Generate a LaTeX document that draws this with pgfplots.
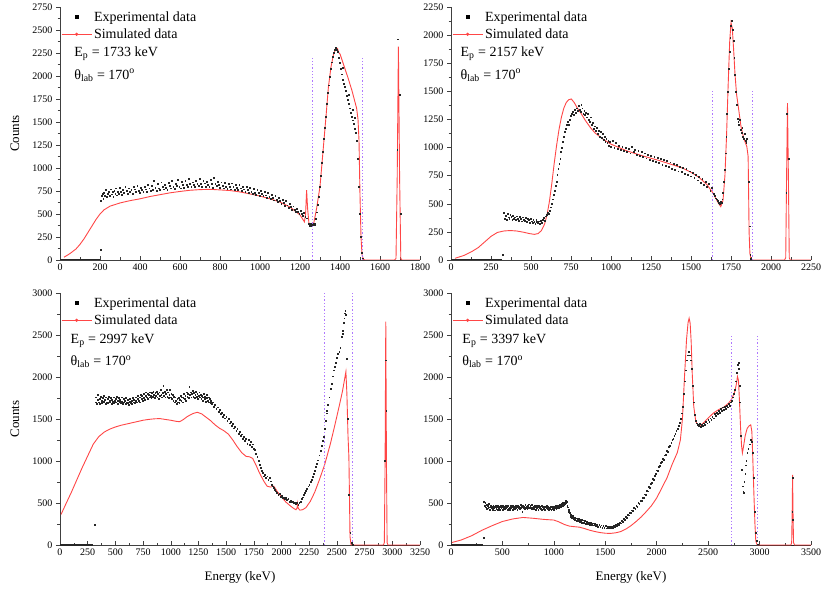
\documentclass[border=0pt]{standalone}
\usepackage{fontspec}
\setmainfont{Liberation Serif}
\usepackage{pgfplots}
\pgfplotsset{compat=1.18}
\definecolor{simred}{RGB}{255,70,70}
\definecolor{cutline}{RGB}{175,120,255}

\tikzset{panelnote/.style={anchor=west, font=\fontsize{14}{15}\selectfont}}
\pgfplotsset{
  panel/.style={
    scale only axis, width=360pt, height=253pt,
    axis x line*=bottom, axis y line*=left,
    axis line style={black!75, line width=0.6pt},
    xtick align=inside, ytick align=outside,
    major tick length=4pt, minor tick length=2.5pt,
    every tick/.style={black!75, line width=0.5pt},
    minor x tick num=1, minor y tick num=1,
    tick label style={font=\fontsize{10}{11}\selectfont},
    /pgf/number format/assume math mode=true,
    /pgf/number format/1000 sep={},
    scaled ticks=false, xmin=0, ymin=0,
    label style={font=\fontsize{13}{14}\selectfont},
    ylabel style={at={(axis description cs:-0.125,0.5)}, anchor=center},
    xlabel style={at={(axis description cs:0.5,-0.13)}, anchor=center},
    legend style={at={(rel axis cs:0.0,0.995)}, anchor=north west, draw=none, fill=none,
      font=\fontsize{14}{15}\selectfont, row sep=2pt, inner sep=1pt},
    legend cell align=left,
  },
  exp/.style={only marks, mark=square*, mark size=0.42pt, black!85,
    legend image code/.code={\fill[black] (15pt,0pt) +(-1.6pt,-1.6pt) rectangle +(1.6pt,1.6pt);}},
  sim/.style={simred, line width=0.9pt, no marks,
    legend image code/.code={\draw[simred, line width=0.8pt] (0pt,0pt) -- (30pt,0pt); \fill[simred] (15pt,0pt) circle (1.1pt);}},
  cut/.style={cutline, line width=1.5pt, dash pattern=on 1.3pt off 2pt, forget plot},
  base/.style={black!85, line width=1.1pt, forget plot},
}

\begin{document}
\begin{tikzpicture}
\useasboundingbox (0pt,0pt) rectangle (821pt,589pt);

% ---------- panel 1: Ep = 1733 keV
\begin{axis}[panel, at={(60pt,329pt)}, anchor=south west,
  xmax=1800, ymax=2750, xtick={0,200,...,1800}, ytick={0,250,...,2750},
  ylabel={Counts}]
\addplot[base] table[row sep=\\] {0 0\\ 200 0\\};
\addplot[base, line width=0.8pt] table[row sep=\\] {1520 0\\ 1800 0\\};
\addplot[exp] table[row sep=\\] {
205 640\\ 208 700\\ 212 720\\ 216 670\\ 220 735\\ 225 700\\ 230 760\\ 234 690\\ 238 725\\ 243 745\\ 248 700\\ 252 770\\ 257 715\\ 262 740\\ 266 690\\ 271 755\\ 276 725\\ 280 780\\ 285 705\\ 290 745\\ 295 720\\ 300 790\\ 305 740\\ 310 710\\ 315 765\\ 320 735\\ 326 800\\ 332 750\\ 338 725\\ 344 780\\ 350 745\\ 356 760\\ 362 720\\ 368 795\\ 374 770\\ 380 740\\ 386 810\\ 392 755\\ 398 730\\ 404 785\\ 410 760\\ 416 745\\ 422 800\\ 428 770\\ 434 740\\ 440 820\\ 446 780\\ 452 750\\ 458 805\\ 464 765\\ 470 860\\ 476 790\\ 482 755\\ 488 830\\ 494 780\\ 500 765\\ 506 845\\ 512 800\\ 518 770\\ 524 820\\ 530 790\\ 536 760\\ 542 840\\ 548 805\\ 554 780\\ 560 860\\ 566 800\\ 572 775\\ 578 830\\ 584 810\\ 590 870\\ 596 795\\ 602 780\\ 608 850\\ 614 815\\ 620 790\\ 626 860\\ 632 820\\ 638 800\\ 644 880\\ 650 830\\ 656 795\\ 662 845\\ 668 820\\ 674 800\\ 680 865\\ 686 830\\ 692 810\\ 698 880\\ 704 825\\ 710 795\\ 716 860\\ 722 835\\ 728 800\\ 734 850\\ 740 820\\ 746 795\\ 752 870\\ 758 825\\ 764 790\\ 770 890\\ 776 830\\ 782 805\\ 788 850\\ 794 815\\ 800 785\\ 806 845\\ 812 810\\ 818 780\\ 824 840\\ 830 800\\ 836 775\\ 842 830\\ 848 795\\ 854 770\\ 860 835\\ 866 795\\ 872 765\\ 878 820\\ 884 790\\ 890 760\\ 896 815\\ 902 780\\ 908 755\\ 914 800\\ 920 770\\ 926 745\\ 932 800\\ 938 760\\ 944 735\\ 950 790\\ 956 745\\ 962 720\\ 968 775\\ 974 735\\ 980 710\\ 986 760\\ 992 730\\ 998 700\\ 1004 750\\ 1010 720\\ 1016 695\\ 1022 740\\ 1028 705\\ 1034 680\\ 1040 730\\ 1046 690\\ 1052 665\\ 1058 710\\ 1064 675\\ 1070 650\\ 1076 700\\ 1082 655\\ 1088 630\\ 1094 680\\ 1100 640\\ 1106 615\\ 1112 655\\ 1118 620\\ 1124 590\\ 1130 640\\ 1136 595\\ 1142 570\\ 1148 610\\ 1154 575\\ 1160 550\\ 1166 585\\ 1172 550\\ 1178 525\\ 1184 560\\ 1190 525\\ 1196 505\\ 1202 540\\ 1208 500\\ 1214 485\\ 1220 510\\ 1226 470\\ 1232 455\\
1245 395\\ 1248 375\\ 1252 390\\ 1256 370\\ 1260 385\\ 1264 378\\ 1268 392\\ 1272 380\\
1276 400\\ 1280 450\\ 1285 520\\ 1290 600\\ 1295 690\\ 1300 800\\ 1305 920\\ 1310 1060\\ 1315 1180\\ 1320 1320\\ 1325 1440\\ 1330 1560\\ 1335 1700\\ 1340 1820\\ 1345 1900\\ 1350 1990\\ 1355 2080\\ 1360 2150\\ 1365 2210\\ 1370 2250\\ 1375 2290\\ 1380 2310\\ 1385 2290\\
1390 2260\\ 1395 2200\\ 1400 2140\\ 1405 2080\\ 1410 2020\\ 1412 2090\\ 1415 1960\\ 1420 1920\\ 1425 1880\\ 1430 1840\\ 1435 1790\\ 1440 1740\\ 1442 1800\\ 1445 1700\\ 1450 1650\\ 1455 1600\\ 1460 1560\\ 1462 1630\\ 1465 1520\\ 1470 1480\\ 1472 1550\\ 1475 1430\\ 1480 1380\\ 1485 1300\\ 1490 1100\\ 1495 800\\ 1500 500\\ 1505 250\\ 1510 80\\ 1515 20\\
205 110\\ 1686 1200\\ 1690 2400\\ 1700 1800\\ 1705 500\\
};
\addplot[sim] table[row sep=\\] {
20 30\\ 50 70\\ 80 120\\ 100 170\\ 120 230\\ 140 300\\ 160 370\\ 180 440\\ 200 500\\ 220 545\\ 250 585\\ 300 620\\ 350 645\\ 400 665\\ 450 690\\ 500 710\\ 550 730\\ 600 745\\ 650 758\\ 700 765\\ 750 768\\ 800 762\\ 850 755\\ 900 740\\ 950 718\\ 1000 695\\ 1050 665\\ 1100 630\\ 1150 575\\ 1200 490\\ 1222 415\\ 1228 500\\ 1233 760\\ 1238 560\\ 1245 390\\ 1255 378\\ 1267 380\\ 1283 560\\ 1300 800\\ 1317 1230\\ 1330 1560\\ 1342 1880\\ 1355 2100\\ 1367 2230\\ 1380 2305\\ 1387 2300\\ 1395 2250\\ 1400 2240\\ 1420 2110\\ 1440 1980\\ 1460 1840\\ 1483 1650\\ 1490 1530\\ 1495 1300\\ 1500 700\\ 1505 250\\ 1510 60\\ 1517 5\\ 1525 0\\ 1672 0\\ 1680 15\\ 1686 900\\ 1692 2320\\ 1698 900\\ 1704 15\\ 1710 0\\ 1800 0\\
};
\addplot[cut] table[row sep=\\] {1262 0\\ 1262 2200\\};
\addplot[cut] table[row sep=\\] {1513 0\\ 1513 2200\\};
\legend{Experimental data, Simulated data}
\node[panelnote] at (rel axis cs:0.03,0.815) {E\textsubscript{p} = 1733 keV};
\node[panelnote] at (rel axis cs:0.03,0.73) {θ\textsubscript{lab} = 170\textsuperscript{o}};
\end{axis}

% ---------- panel 2: Ep = 2157 keV
\begin{axis}[panel, at={(451pt,329pt)}, anchor=south west,
  xmax=2250, ymax=2250, xtick={0,250,...,2250}, ytick={0,250,...,2250}]
\addplot[base] table[row sep=\\] {0 0\\ 320 0\\};
\addplot[base, line width=0.8pt] table[row sep=\\] {1880 0\\ 2250 0\\};
\addplot[exp] table[row sep=\\] {
323 45\\
330 420\\ 335 370\\ 340 395\\ 346 360\\ 352 410\\ 358 380\\ 364 370\\ 370 400\\ 376 385\\ 382 355\\ 388 395\\ 394 370\\ 400 380\\ 406 360\\ 412 390\\ 418 365\\ 424 350\\ 430 385\\ 436 370\\ 442 345\\ 448 380\\ 454 360\\ 460 350\\ 466 375\\ 472 340\\ 478 365\\ 484 355\\ 490 335\\ 496 370\\ 502 345\\ 508 330\\ 514 360\\ 520 340\\ 526 325\\ 532 355\\ 538 340\\ 544 330\\ 550 345\\ 556 320\\ 562 350\\ 568 335\\ 574 360\\ 580 375\\ 586 350\\ 592 390\\ 598 400\\ 604 420\\ 610 410\\ 616 440\\ 622 470\\ 628 500\\ 634 540\\ 640 580\\ 646 620\\ 652 660\\ 658 700\\ 664 760\\ 670 810\\ 676 860\\ 682 900\\ 688 960\\ 694 1000\\ 700 1050\\ 706 1100\\ 712 1140\\ 718 1170\\ 724 1200\\ 730 1230\\ 736 1200\\ 742 1250\\ 748 1280\\ 754 1300\\ 760 1320\\ 766 1290\\ 772 1340\\ 778 1310\\ 784 1350\\ 790 1330\\ 796 1370\\ 802 1340\\ 808 1320\\ 814 1380\\ 820 1350\\ 826 1300\\ 832 1330\\ 838 1290\\ 844 1310\\ 850 1270\\ 856 1300\\ 862 1250\\ 868 1230\\ 874 1270\\ 880 1200\\ 886 1220\\ 892 1170\\ 898 1190\\ 904 1150\\ 910 1180\\ 916 1120\\ 922 1150\\ 928 1100\\ 934 1140\\ 940 1090\\ 946 1120\\ 952 1070\\ 958 1100\\ 964 1050\\ 970 1080\\ 976 1040\\ 982 1060\\ 988 1020\\ 994 1050\\ 1000 1010\\ 1010 1060\\ 1020 1000\\ 1030 1040\\ 1040 990\\ 1050 1020\\ 1060 980\\ 1070 1010\\ 1080 970\\ 1090 1000\\ 1100 960\\ 1110 990\\ 1120 950\\ 1130 1010\\ 1140 960\\ 1150 980\\ 1160 935\\ 1170 970\\ 1180 925\\ 1190 960\\ 1200 915\\ 1210 950\\ 1220 905\\ 1230 940\\ 1240 895\\ 1250 930\\ 1260 885\\ 1270 920\\ 1280 875\\ 1290 910\\ 1300 865\\ 1310 900\\ 1320 850\\ 1330 890\\ 1340 840\\ 1350 880\\ 1360 830\\ 1370 870\\ 1380 815\\ 1390 855\\ 1400 805\\ 1410 845\\ 1420 790\\ 1430 830\\ 1440 785\\ 1450 820\\ 1460 770\\ 1470 810\\ 1480 760\\ 1490 790\\ 1500 745\\ 1510 775\\ 1520 730\\ 1530 760\\ 1540 710\\ 1550 740\\ 1560 690\\ 1570 720\\ 1580 670\\ 1590 700\\ 1600 650\\ 1610 680\\ 1620 620\\ 1630 640\\ 1640 590\\ 1650 570\\ 1655 550\\ 1660 540\\ 1665 530\\ 1670 520\\ 1675 510\\ 1680 500\\ 1685 520\\ 1690 510\\ 1695 540\\
1700 600\\ 1705 700\\ 1710 800\\ 1715 950\\ 1720 1100\\ 1725 1300\\ 1730 1500\\ 1735 1700\\ 1740 1850\\ 1745 1980\\ 1750 2080\\ 1755 2130\\ 1760 2050\\ 1765 1950\\ 1770 1800\\ 1775 1650\\ 1780 1500\\ 1785 1380\\ 1790 1260\\ 1795 1230\\ 1800 1200\\ 1805 1250\\ 1810 1160\\ 1815 1130\\ 1820 1180\\ 1825 1100\\ 1830 1080\\ 1835 1120\\ 1840 1060\\ 1845 1040\\ 1850 1080\\ 1860 700\\ 1865 300\\ 1870 50\\ 1875 10\\
2095 600\\ 2100 1300\\ 2110 900\\
};
\addplot[sim] table[row sep=\\] {
25 15\\ 80 40\\ 130 75\\ 170 110\\ 210 160\\ 250 210\\ 290 245\\ 330 258\\ 370 262\\ 410 258\\ 450 248\\ 490 235\\ 520 228\\ 545 235\\ 565 262\\ 585 320\\ 600 400\\ 615 520\\ 630 680\\ 645 860\\ 660 1020\\ 675 1160\\ 690 1270\\ 705 1350\\ 720 1400\\ 735 1425\\ 752 1432\\ 770 1400\\ 790 1350\\ 810 1310\\ 840 1240\\ 870 1180\\ 900 1130\\ 950 1075\\ 1000 1030\\ 1100 970\\ 1200 925\\ 1300 885\\ 1400 840\\ 1450 815\\ 1500 780\\ 1550 735\\ 1600 670\\ 1640 590\\ 1665 520\\ 1686 474\\ 1700 530\\ 1712 750\\ 1722 1100\\ 1732 1550\\ 1742 1950\\ 1750 2110\\ 1758 2060\\ 1766 1880\\ 1775 1650\\ 1785 1470\\ 1795 1370\\ 1812 1190\\ 1830 1080\\ 1849 1008\\ 1857 920\\ 1860 600\\ 1863 250\\ 1868 60\\ 1875 5\\ 1885 0\\ 2085 0\\ 2092 20\\ 2097 700\\ 2103 1395\\ 2109 700\\ 2114 20\\ 2120 0\\ 2250 0\\
};
\addplot[cut] table[row sep=\\] {1634 0\\ 1634 1500\\};
\addplot[cut] table[row sep=\\] {1885 0\\ 1885 1500\\};
\legend{Experimental data, Simulated data}
\node[panelnote] at (rel axis cs:0.017,0.815) {E\textsubscript{p} = 2157 keV};
\node[panelnote] at (rel axis cs:0.017,0.73) {θ\textsubscript{lab} = 170\textsuperscript{o}};
\end{axis}

% ---------- panel 3: Ep = 2997 keV
\begin{axis}[panel, at={(60pt,44pt)}, anchor=south west, height=252pt,
  xmax=3250, ymax=3000, xtick={0,250,...,3250}, ytick={0,500,...,3000},
  ylabel={Counts}, xlabel={Energy (keV)}]
\addplot[base] table[row sep=\\] {0 0\\ 300 0\\};
\addplot[base, line width=0.8pt] table[row sep=\\] {2640 0\\ 3250 0\\};
\addplot[exp] table[row sep=\\] {
317 238\\
320 1700\\ 326 1760\\ 332 1680\\ 338 1730\\ 344 1790\\ 350 1700\\ 356 1740\\ 362 1680\\ 368 1770\\ 374 1720\\ 380 1690\\ 386 1750\\ 392 1710\\ 398 1780\\ 404 1730\\ 410 1680\\ 416 1760\\ 422 1700\\ 428 1740\\ 434 1690\\ 440 1770\\ 446 1720\\ 452 1700\\ 458 1750\\ 464 1680\\ 470 1730\\ 476 1710\\ 482 1760\\ 488 1690\\ 494 1720\\ 500 1740\\ 506 1700\\ 512 1770\\ 518 1720\\ 524 1680\\ 530 1750\\ 536 1710\\ 542 1730\\ 548 1690\\ 554 1760\\ 560 1710\\ 566 1680\\ 572 1740\\ 578 1700\\ 584 1720\\ 590 1680\\ 596 1750\\ 602 1700\\ 608 1690\\ 614 1730\\ 620 1670\\ 626 1710\\ 632 1740\\ 638 1690\\ 644 1720\\ 650 1680\\ 656 1750\\ 662 1700\\ 668 1730\\ 674 1690\\ 680 1720\\ 686 1760\\ 692 1700\\ 698 1740\\ 704 1780\\ 710 1720\\ 716 1760\\ 722 1700\\ 728 1790\\ 734 1740\\ 740 1780\\ 746 1720\\ 752 1800\\ 758 1750\\ 764 1730\\ 770 1780\\ 776 1820\\ 782 1760\\ 788 1800\\ 794 1740\\ 800 1790\\ 806 1760\\ 812 1820\\ 818 1780\\ 824 1750\\ 830 1810\\ 836 1770\\ 842 1830\\ 848 1790\\ 854 1750\\ 860 1810\\ 866 1780\\ 872 1830\\ 878 1760\\ 884 1800\\ 890 1740\\ 896 1820\\ 902 1780\\ 908 1850\\ 914 1790\\ 920 1760\\ 926 1810\\ 932 1900\\ 938 1780\\ 944 1830\\ 950 1760\\ 956 1800\\ 962 1850\\ 968 1770\\ 974 1820\\ 980 1750\\ 986 1790\\ 992 1850\\ 998 1760\\ 1004 1800\\ 1010 1740\\ 1016 1790\\ 1022 1720\\ 1028 1770\\ 1034 1700\\ 1040 1760\\ 1046 1720\\ 1052 1680\\ 1058 1740\\ 1064 1700\\ 1070 1750\\ 1076 1690\\ 1082 1730\\ 1088 1780\\ 1094 1720\\ 1100 1760\\ 1106 1700\\ 1112 1750\\ 1118 1800\\ 1124 1740\\ 1130 1780\\ 1136 1720\\ 1142 1820\\ 1148 1770\\ 1154 1800\\ 1160 1750\\ 1166 1880\\ 1172 1790\\ 1178 1820\\ 1184 1760\\ 1190 1800\\ 1196 1840\\ 1202 1770\\ 1208 1810\\ 1214 1750\\ 1220 1790\\ 1226 1830\\ 1232 1770\\ 1238 1800\\ 1244 1740\\ 1250 1780\\ 1256 1820\\ 1262 1760\\ 1268 1790\\ 1274 1740\\ 1280 1780\\ 1286 1720\\ 1292 1760\\ 1298 1800\\ 1304 1740\\ 1310 1770\\ 1316 1710\\ 1322 1750\\ 1328 1790\\ 1334 1720\\ 1340 1760\\ 1346 1700\\ 1352 1740\\ 1358 1690\\ 1364 1720\\ 1370 1680\\
1380 1700\\ 1390 1650\\ 1400 1670\\ 1410 1620\\ 1420 1640\\ 1430 1590\\ 1440 1610\\ 1450 1560\\ 1460 1580\\ 1470 1530\\ 1480 1550\\ 1490 1510\\ 1500 1530\\ 1510 1480\\ 1520 1500\\ 1530 1450\\ 1540 1470\\ 1550 1420\\ 1560 1440\\ 1570 1390\\ 1580 1410\\ 1590 1360\\ 1600 1380\\ 1610 1330\\ 1620 1350\\ 1630 1300\\ 1640 1320\\ 1650 1270\\ 1660 1290\\ 1670 1240\\ 1680 1270\\ 1690 1210\\ 1700 1250\\ 1710 1190\\ 1720 1230\\ 1730 1170\\ 1740 1200\\ 1750 1150\\ 1760 1130\\ 1770 1090\\ 1780 1050\\ 1790 1000\\ 1800 960\\ 1810 920\\ 1820 880\\ 1830 860\\ 1840 820\\ 1850 840\\ 1860 800\\ 1870 820\\ 1880 780\\ 1890 800\\ 1900 760\\ 1910 720\\ 1920 700\\ 1930 680\\ 1940 660\\ 1950 640\\ 1960 620\\ 1970 600\\ 1980 610\\ 1990 580\\ 2000 590\\ 2010 560\\ 2020 570\\ 2030 550\\ 2040 560\\ 2050 540\\ 2060 550\\ 2070 520\\ 2080 530\\ 2090 510\\ 2100 520\\ 2110 500\\ 2120 510\\ 2130 490\\ 2140 500\\ 2150 480\\
2160 500\\ 2170 520\\ 2180 550\\ 2190 570\\ 2200 600\\ 2210 620\\ 2220 650\\ 2230 670\\ 2240 700\\ 2250 720\\ 2260 750\\ 2270 780\\ 2280 810\\ 2290 850\\ 2300 880\\ 2310 930\\ 2320 970\\ 2330 1010\\ 2340 1070\\ 2350 1120\\ 2360 1180\\ 2370 1240\\ 2380 1290\\ 2390 1380\\ 2400 1480\\ 2405 1600\\ 2410 1570\\ 2420 1670\\ 2430 1760\\ 2440 1860\\ 2450 1920\\ 2460 2010\\ 2470 2080\\ 2480 2120\\ 2490 2170\\ 2500 2230\\ 2510 2280\\ 2520 2300\\ 2530 2350\\ 2540 2480\\ 2550 2550\\ 2555 2520\\ 2560 2650\\ 2565 2700\\ 2570 2760\\ 2575 2790\\ 2580 2740\\ 2590 2220\\ 2600 1500\\ 2610 600\\ 2620 150\\ 2630 30\\ 2640 5\\
2932 1000\\ 2938 2200\\ 2945 1600\\
};
\addplot[sim] table[row sep=\\] {
10 365\\ 50 480\\ 100 620\\ 150 770\\ 200 920\\ 250 1060\\ 300 1200\\ 350 1290\\ 400 1345\\ 450 1380\\ 500 1405\\ 550 1425\\ 600 1440\\ 650 1455\\ 700 1470\\ 750 1485\\ 800 1495\\ 850 1502\\ 900 1505\\ 950 1495\\ 1000 1485\\ 1050 1472\\ 1080 1468\\ 1110 1490\\ 1150 1530\\ 1200 1565\\ 1240 1580\\ 1280 1560\\ 1320 1520\\ 1360 1480\\ 1400 1430\\ 1440 1390\\ 1480 1360\\ 1520 1320\\ 1560 1250\\ 1600 1170\\ 1640 1100\\ 1680 1055\\ 1710 1050\\ 1740 1030\\ 1770 950\\ 1800 860\\ 1840 760\\ 1870 700\\ 1900 690\\ 1930 700\\ 1960 640\\ 2000 570\\ 2040 510\\ 2080 465\\ 2110 435\\ 2130 420\\ 2140 440\\ 2145 495\\ 2150 440\\ 2165 415\\ 2190 420\\ 2220 445\\ 2260 520\\ 2300 630\\ 2340 770\\ 2390 960\\ 2440 1200\\ 2480 1420\\ 2520 1650\\ 2550 1830\\ 2570 1980\\ 2581 2063\\ 2590 1800\\ 2600 1300\\ 2608 1050\\ 2614 500\\ 2618 100\\ 2627 5\\ 2640 0\\ 2920 0\\ 2928 30\\ 2935 1000\\ 2941 2660\\ 2947 1000\\ 2953 30\\ 2960 0\\ 3250 0\\
};
\addplot[cut] table[row sep=\\] {2388 0\\ 2388 3000\\};
\addplot[cut] table[row sep=\\] {2640 0\\ 2640 3000\\};
\legend{Experimental data, Simulated data}
\node[panelnote] at (rel axis cs:0.02,0.81) {E\textsubscript{p} = 2997 keV};
\node[panelnote] at (rel axis cs:0.02,0.728) {θ\textsubscript{lab} = 170\textsuperscript{o}};
\end{axis}

% ---------- panel 4: Ep = 3397 keV
\begin{axis}[panel, at={(451pt,44pt)}, anchor=south west, height=252pt,
  xmax=3500, ymax=3000, xtick={0,500,...,3500}, ytick={0,500,...,3000},
  xlabel={Energy (keV)}]
\addplot[base] table[row sep=\\] {0 0\\ 310 0\\};
\addplot[base, line width=0.8pt] table[row sep=\\] {2980 0\\ 3500 0\\};
\addplot[exp] table[row sep=\\] {
315 90\\
320 520\\ 326 470\\ 332 500\\ 338 450\\ 344 480\\ 350 430\\ 356 470\\ 362 440\\ 368 490\\ 374 450\\ 380 420\\ 386 470\\ 392 440\\ 398 460\\ 404 420\\ 410 470\\ 416 440\\ 422 455\\ 428 415\\ 434 465\\ 440 435\\ 446 450\\ 452 420\\ 458 470\\ 464 440\\ 470 455\\ 476 425\\ 482 465\\ 488 440\\ 494 450\\ 500 420\\ 506 470\\ 512 440\\ 518 460\\ 524 430\\ 530 470\\ 536 440\\ 542 455\\ 548 420\\ 554 465\\ 560 435\\ 566 450\\ 572 425\\ 578 470\\ 584 440\\ 590 455\\ 596 420\\ 602 465\\ 608 440\\ 614 455\\ 620 430\\ 626 470\\ 632 445\\ 638 460\\ 644 425\\ 650 470\\ 656 445\\ 662 460\\ 668 430\\ 674 475\\ 680 445\\ 686 460\\ 692 400\\ 698 470\\ 704 445\\ 710 460\\ 716 430\\ 722 475\\ 728 445\\ 734 460\\ 740 430\\ 746 470\\ 752 445\\ 758 485\\ 764 440\\ 770 470\\ 776 450\\ 782 430\\ 788 475\\ 794 445\\ 800 460\\ 806 430\\ 812 470\\ 818 450\\ 824 425\\ 830 465\\ 836 440\\ 842 455\\ 848 420\\ 854 470\\ 860 440\\ 866 455\\ 872 430\\ 878 465\\ 884 420\\ 890 455\\ 896 440\\ 902 430\\ 908 460\\ 914 420\\ 920 450\\ 926 440\\ 932 470\\ 938 430\\ 944 455\\ 950 420\\ 956 445\\ 962 435\\ 968 460\\ 974 425\\ 980 450\\ 986 435\\ 992 460\\ 998 425\\ 1004 455\\ 1010 440\\ 1016 465\\ 1022 430\\ 1028 455\\ 1034 445\\ 1040 470\\ 1046 440\\ 1052 460\\ 1058 480\\ 1064 455\\ 1070 475\\ 1076 490\\ 1082 470\\ 1088 500\\ 1094 480\\ 1100 510\\ 1106 490\\ 1112 530\\ 1118 500\\ 1124 520\\ 1130 470\\ 1136 450\\ 1142 420\\ 1148 400\\ 1154 380\\ 1160 360\\ 1166 340\\ 1172 330\\ 1178 320\\ 1184 345\\ 1190 310\\ 1196 330\\ 1202 300\\ 1208 325\\ 1214 295\\ 1220 320\\ 1226 290\\ 1232 315\\ 1238 285\\ 1244 310\\ 1250 280\\ 1256 305\\ 1262 275\\ 1268 300\\ 1274 270\\ 1280 295\\ 1290 265\\ 1300 285\\ 1310 255\\ 1320 280\\ 1330 250\\ 1340 270\\ 1350 245\\ 1360 265\\ 1370 240\\ 1380 260\\ 1390 235\\ 1400 255\\ 1410 225\\ 1420 245\\ 1430 220\\ 1440 240\\ 1450 215\\ 1460 235\\ 1470 210\\ 1480 230\\ 1490 205\\ 1500 225\\ 1510 200\\ 1520 220\\ 1530 205\\ 1540 215\\ 1550 200\\ 1560 220\\ 1570 210\\ 1580 230\\ 1590 215\\ 1600 240\\ 1610 225\\ 1620 250\\ 1630 240\\ 1640 265\\ 1650 260\\ 1660 290\\ 1670 280\\ 1680 310\\ 1690 305\\ 1700 335\\ 1710 330\\ 1720 360\\ 1730 355\\ 1740 385\\ 1750 380\\ 1760 415\\ 1770 405\\ 1780 440\\ 1790 435\\ 1800 470\\ 1810 460\\ 1820 500\\ 1830 490\\ 1840 530\\ 1850 525\\ 1860 565\\ 1870 560\\ 1880 605\\ 1890 600\\ 1900 650\\ 1910 640\\ 1920 690\\ 1930 680\\ 1940 730\\ 1950 745\\ 1960 790\\ 1970 780\\ 1980 830\\ 1990 850\\ 2000 890\\ 2010 880\\ 2020 930\\ 2030 940\\ 2040 980\\ 2050 990\\ 2060 1030\\ 2070 1020\\ 2080 1070\\ 2090 1080\\ 2100 1120\\ 2110 1110\\ 2120 1170\\ 2130 1180\\ 2140 1220\\ 2150 1250\\ 2160 1270\\ 2170 1300\\ 2180 1330\\ 2190 1360\\ 2200 1380\\ 2210 1420\\ 2220 1460\\ 2230 1500\\ 2240 1570\\ 2250 1650\\ 2260 1800\\ 2270 1950\\ 2280 2080\\ 2290 2200\\ 2300 2260\\ 2310 2300\\ 2320 2260\\ 2330 2200\\ 2340 2100\\ 2350 1900\\ 2360 1700\\ 2370 1550\\ 2380 1480\\ 2390 1450\\ 2400 1430\\ 2410 1420\\ 2420 1440\\ 2430 1410\\ 2440 1430\\ 2450 1420\\ 2460 1450\\ 2470 1430\\ 2480 1470\\ 2490 1450\\ 2500 1490\\ 2510 1470\\ 2520 1510\\ 2530 1490\\ 2540 1530\\ 2550 1510\\ 2560 1560\\ 2570 1540\\ 2580 1580\\ 2590 1560\\ 2600 1600\\ 2610 1580\\ 2620 1620\\ 2630 1600\\ 2640 1640\\ 2650 1610\\ 2660 1650\\ 2670 1620\\ 2680 1660\\ 2690 1640\\ 2700 1680\\ 2710 1660\\ 2720 1700\\ 2730 1720\\ 2740 1760\\ 2750 1800\\ 2760 1850\\ 2770 1950\\ 2780 2050\\ 2790 2150\\ 2795 2170\\ 2800 2100\\ 2805 1900\\ 2810 1700\\ 2820 1300\\ 2830 900\\ 2835 700\\ 2840 630\\ 2845 620\\ 2850 750\\ 2860 850\\ 2866 950\\ 2870 1000\\ 2880 1100\\ 2890 1150\\ 2900 1200\\ 2910 1250\\ 2920 1230\\ 2930 1100\\ 2940 800\\ 2950 400\\ 2960 150\\ 2970 50\\ 2980 10\\
3317 400\\ 3321 800\\ 3325 300\\
};
\addplot[sim] table[row sep=\\] {
10 30\\ 100 60\\ 200 110\\ 300 175\\ 400 230\\ 500 280\\ 600 310\\ 700 328\\ 800 318\\ 900 305\\ 1000 297\\ 1050 275\\ 1100 245\\ 1150 225\\ 1200 218\\ 1250 212\\ 1300 195\\ 1350 175\\ 1400 160\\ 1450 148\\ 1500 140\\ 1550 138\\ 1600 145\\ 1650 160\\ 1700 190\\ 1750 230\\ 1800 280\\ 1850 335\\ 1900 400\\ 1950 470\\ 2000 560\\ 2050 680\\ 2100 800\\ 2150 960\\ 2200 1100\\ 2230 1250\\ 2250 1500\\ 2270 2000\\ 2290 2450\\ 2305 2650\\ 2315 2700\\ 2325 2640\\ 2335 2420\\ 2345 2050\\ 2360 1650\\ 2380 1470\\ 2400 1430\\ 2428 1425\\ 2460 1460\\ 2500 1510\\ 2550 1570\\ 2600 1610\\ 2650 1640\\ 2700 1690\\ 2730 1740\\ 2760 1830\\ 2775 1920\\ 2785 2005\\ 2795 1960\\ 2805 1700\\ 2815 1400\\ 2825 1180\\ 2833 1095\\ 2845 1180\\ 2860 1300\\ 2880 1390\\ 2900 1420\\ 2914 1430\\ 2925 1350\\ 2935 1000\\ 2945 600\\ 2955 250\\ 2963 50\\ 2975 5\\ 2990 0\\ 3305 0\\ 3312 30\\ 3317 400\\ 3321 835\\ 3325 400\\ 3330 30\\ 3340 0\\ 3500 0\\
};
\addplot[cut] table[row sep=\\] {2727 0\\ 2727 2500\\};
\addplot[cut] table[row sep=\\] {2980 0\\ 2980 2500\\};
\legend{Experimental data, Simulated data}
\node[panelnote] at (rel axis cs:0.022,0.81) {E\textsubscript{p} = 3397 keV};
\node[panelnote] at (rel axis cs:0.022,0.728) {θ\textsubscript{lab} = 170\textsuperscript{o}};
\end{axis}
\end{tikzpicture}
\end{document}
